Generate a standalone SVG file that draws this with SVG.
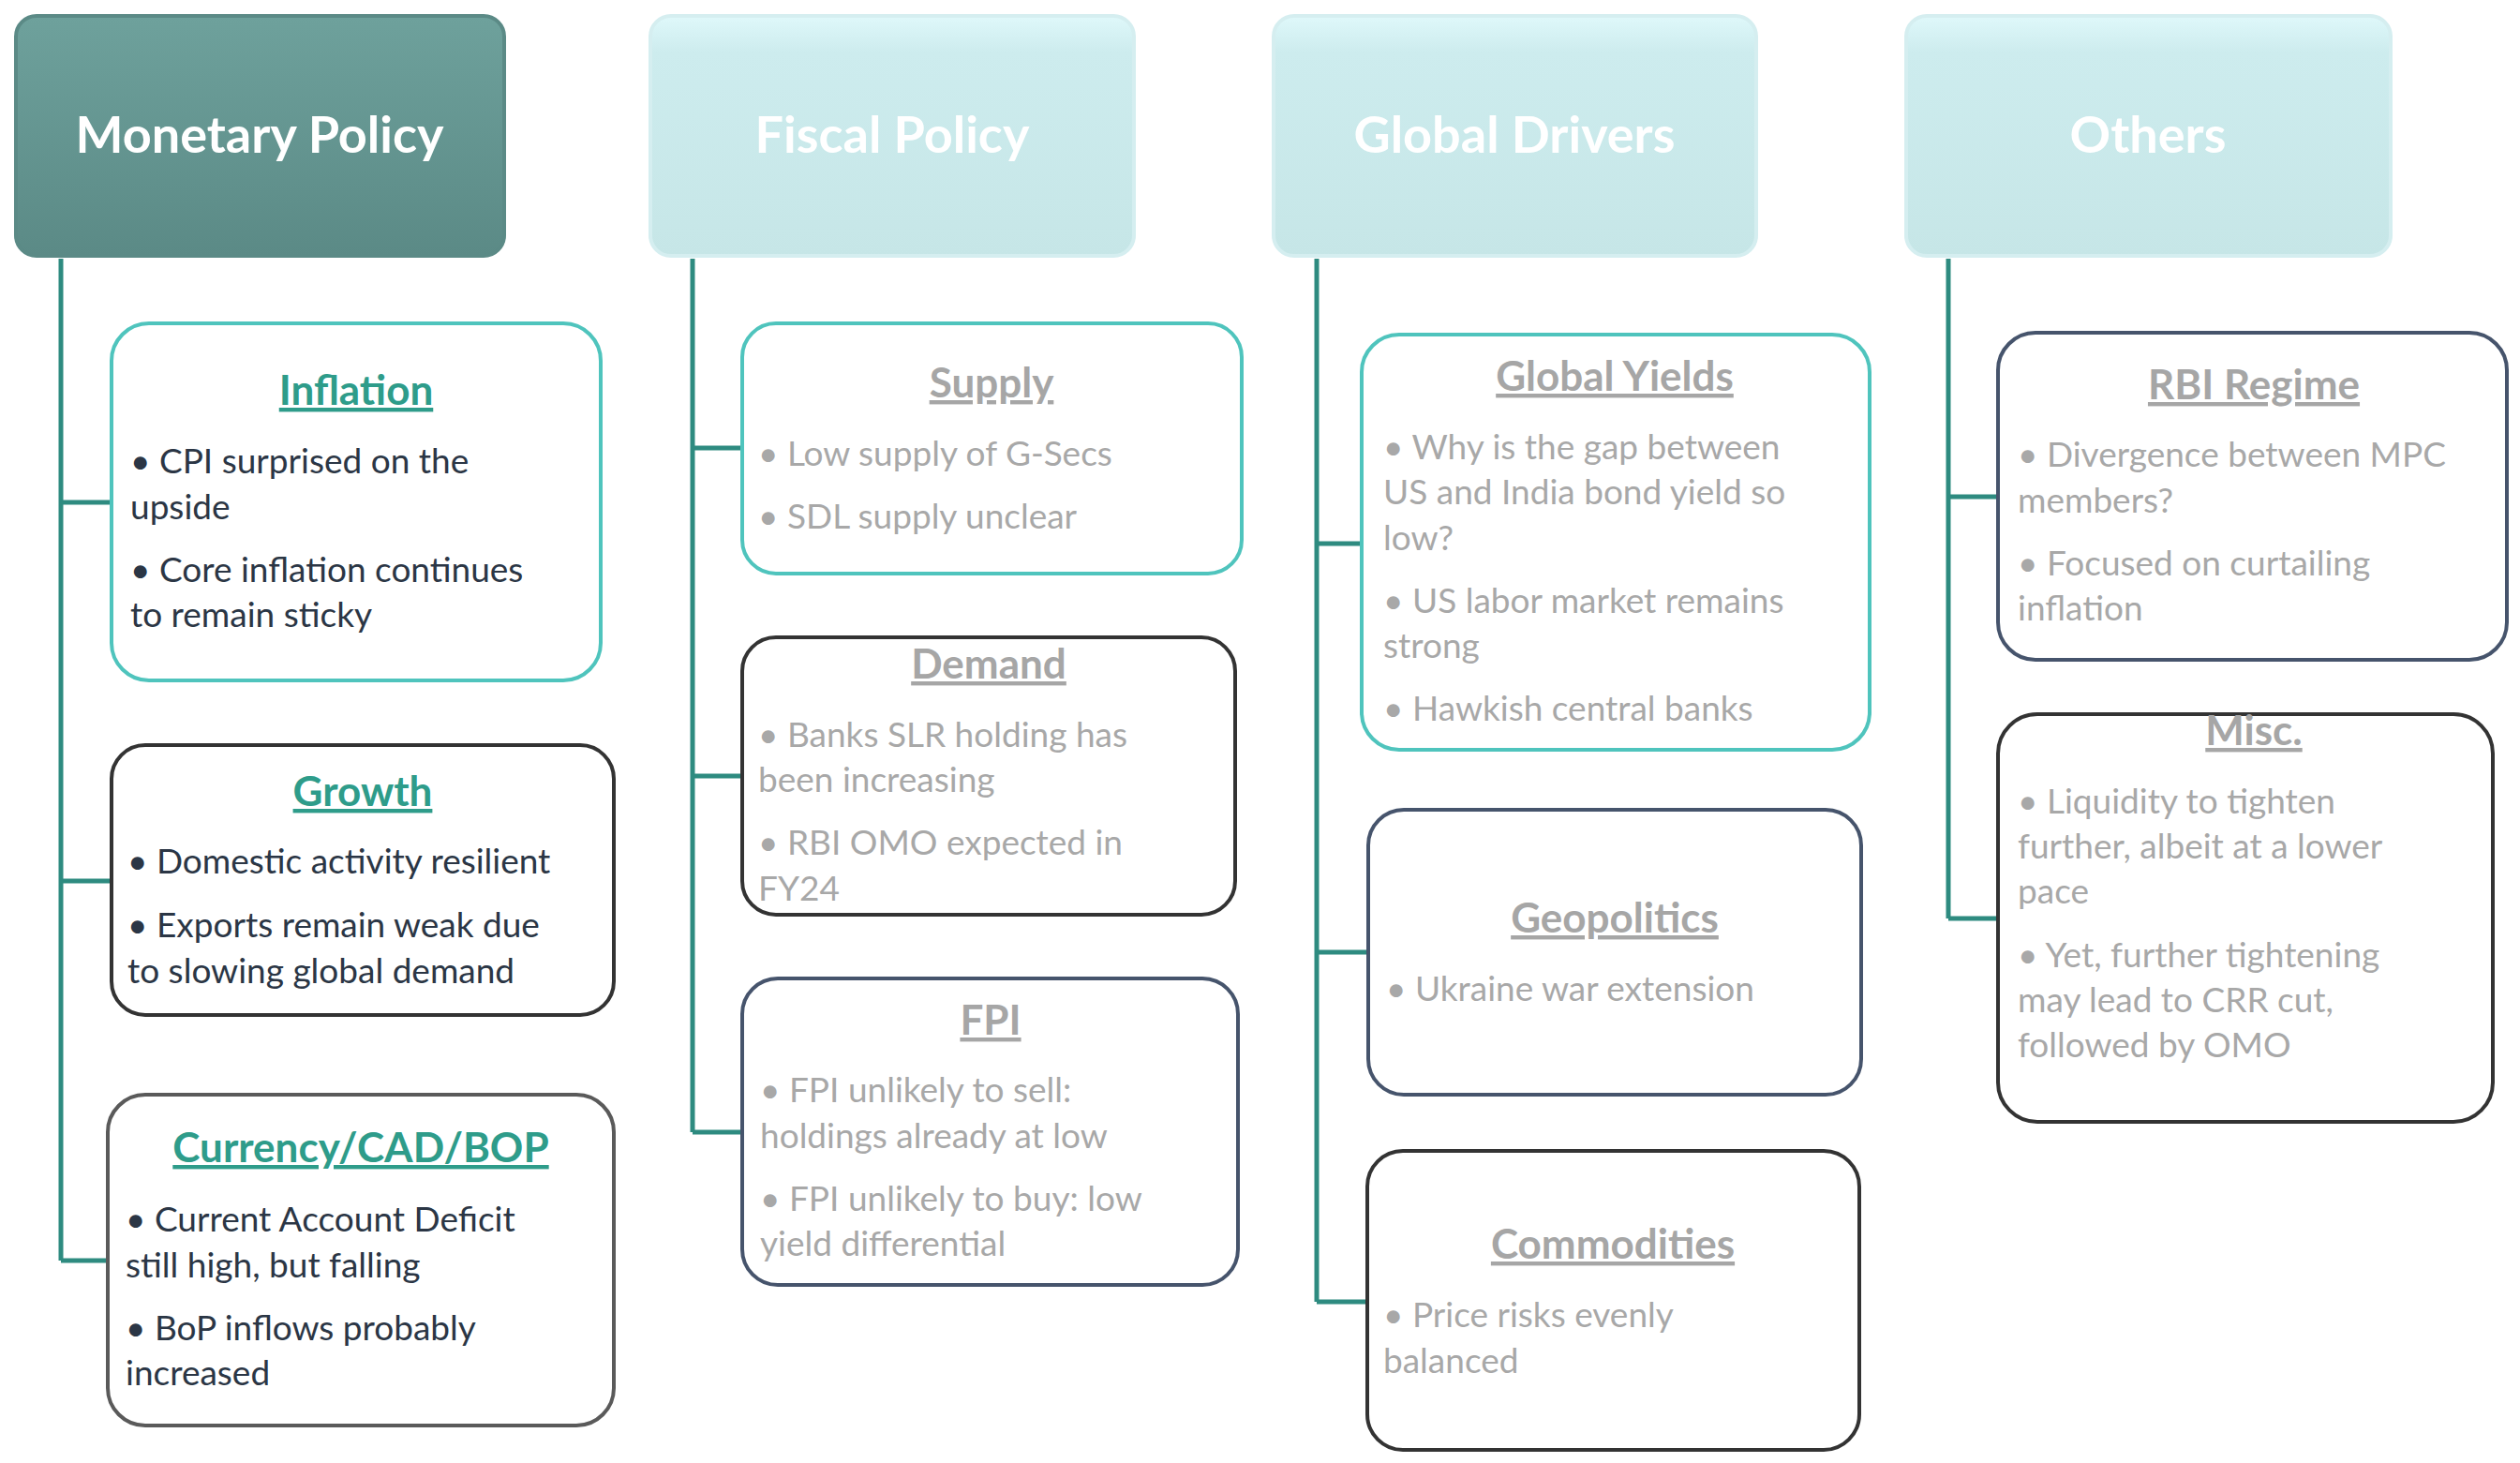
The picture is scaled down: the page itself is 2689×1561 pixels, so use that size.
<svg xmlns="http://www.w3.org/2000/svg" width="2689" height="1561" viewBox="0 0 2689 1561">
<style>
text{font-family:Lato,"Open Sans","Liberation Sans",sans-serif}
.ht{font-size:54px;font-weight:bold;fill:#fff;text-anchor:middle}
.t{font-size:44px;font-weight:bold;text-anchor:middle;text-decoration:underline}
.tg{fill:#2e9c8a}.tx{fill:#a6a6a6}
.b{font-size:37px}
.bd{fill:#2b3645}.bg{fill:#a8a8a8}
.box{fill:#fff;stroke-width:4}
.teal{stroke:#4fc4bd}.dark{stroke:#333}.gray{stroke:#5a5a5a}.slate{stroke:#46546c}
.con{stroke:#2e8b80;stroke-width:5;fill:none}
</style>
<defs>
<linearGradient id="gm" x1="0" y1="0" x2="0" y2="1"><stop offset="0" stop-color="#6ea19c"/><stop offset="1" stop-color="#5b8a86"/></linearGradient>
<linearGradient id="gl" x1="0" y1="0" x2="0" y2="1"><stop offset="0" stop-color="#dff8fa"/><stop offset="0.15" stop-color="#cdecee"/><stop offset="1" stop-color="#c6e6e7"/></linearGradient>
</defs>
<rect width="2689" height="1561" fill="#fff"/>
<g id="connectors">
<path class="con" d="M65 276V1345M65 536H119M65 940H119M65 1345H115"/>
<path class="con" d="M739 276V1208M739 478H792M739 828H792M739 1208H792"/>
<path class="con" d="M1405 276V1389M1405 580H1453M1405 1016H1460M1405 1389H1459"/>
<path class="con" d="M2079 276V980M2079 530H2132M2079 980H2132"/>
</g>
<g id="h-monetary"><rect x="17" y="17" width="521" height="256" rx="22" fill="url(#gm)" stroke="#5b8a86" stroke-width="4"/><text class="ht" x="277" y="163">Monetary Policy</text></g>
<g id="h-fiscal"><rect x="694" y="17" width="516" height="256" rx="22" fill="url(#gl)" stroke="#d5eef0" stroke-width="4"/><text class="ht" x="952" y="163">Fiscal Policy</text></g>
<g id="h-global"><rect x="1359" y="17" width="515" height="256" rx="22" fill="url(#gl)" stroke="#d5eef0" stroke-width="4"/><text class="ht" x="1616" y="163">Global Drivers</text></g>
<g id="h-others"><rect x="2034" y="17" width="517" height="256" rx="22" fill="url(#gl)" stroke="#d5eef0" stroke-width="4"/><text class="ht" x="2292" y="163">Others</text></g>

<g id="inflation"><rect class="box teal" x="119" y="345" width="522" height="381" rx="40"/>
<text class="t tg" x="380" y="432">Inflation</text>
<text class="b bd" x="139" y="505">• CPI surprised on the</text><text class="b bd" x="139" y="554">upside</text>
<text class="b bd" x="139" y="621">• Core inflation continues</text><text class="b bd" x="139" y="669">to remain sticky</text></g>

<g id="growth"><rect class="box dark" x="119" y="795" width="536" height="288" rx="36"/>
<text class="t tg" x="387" y="860">Growth</text>
<text class="b bd" x="136" y="932">• Domestic activity resilient</text>
<text class="b bd" x="136" y="1000">• Exports remain weak due</text><text class="b bd" x="136" y="1049">to slowing global demand</text></g>

<g id="currency"><rect class="box gray" x="115" y="1168" width="540" height="353" rx="40"/>
<text class="t tg" x="385" y="1240">Currency/CAD/BOP</text>
<text class="b bd" x="134" y="1314">• Current Account Deficit</text><text class="b bd" x="134" y="1363">still high, but falling</text>
<text class="b bd" x="134" y="1430">• BoP inflows probably</text><text class="b bd" x="134" y="1478">increased</text></g>

<g id="supply"><rect class="box teal" x="792" y="345" width="533" height="267" rx="36"/>
<text class="t tx" x="1058" y="424">Supply</text>
<text class="b bg" x="809" y="497">• Low supply of G-Secs</text>
<text class="b bg" x="809" y="564">• SDL supply unclear</text></g>

<g id="demand"><rect class="box dark" x="792" y="680" width="526" height="296" rx="36"/>
<text class="t tx" x="1055" y="724">Demand</text>
<text class="b bg" x="809" y="797">• Banks SLR holding has</text><text class="b bg" x="809" y="845">been increasing</text>
<text class="b bg" x="809" y="912">• RBI OMO expected in</text><text class="b bg" x="809" y="961">FY24</text></g>

<g id="fpi"><rect class="box slate" x="792" y="1044" width="529" height="327" rx="38"/>
<text class="t tx" x="1057" y="1104">FPI</text>
<text class="b bg" x="811" y="1176">• FPI unlikely to sell:</text><text class="b bg" x="811" y="1225">holdings already at low</text>
<text class="b bg" x="811" y="1292">• FPI unlikely to buy:  low</text><text class="b bg" x="811" y="1340">yield differential</text></g>

<g id="global-yields"><rect class="box teal" x="1453" y="357" width="542" height="443" rx="40"/>
<text class="t tx" x="1723" y="417">Global Yields</text>
<text class="b bg" x="1476" y="490">• Why is the gap between</text><text class="b bg" x="1476" y="538">US and India bond yield so</text><text class="b bg" x="1476" y="587">low?</text>
<text class="b bg" x="1476" y="654">• US labor market remains</text><text class="b bg" x="1476" y="702">strong</text>
<text class="b bg" x="1476" y="769">• Hawkish central banks</text></g>

<g id="geopolitics"><rect class="box slate" x="1460" y="864" width="526" height="304" rx="38"/>
<text class="t tx" x="1723" y="995">Geopolitics</text>
<text class="b bg" x="1479" y="1068">• Ukraine war extension</text></g>

<g id="commodities"><rect class="box dark" x="1459" y="1228" width="525" height="319" rx="38"/>
<text class="t tx" x="1721" y="1343">Commodities</text>
<text class="b bg" x="1476" y="1416">• Price risks evenly</text><text class="b bg" x="1476" y="1465">balanced</text></g>

<g id="rbi-regime"><rect class="box slate" x="2132" y="355" width="543" height="349" rx="40"/>
<text class="t tx" x="2405" y="426">RBI Regime</text>
<text class="b bg" x="2153" y="498">• Divergence between MPC</text><text class="b bg" x="2153" y="547">members?</text>
<text class="b bg" x="2153" y="614">• Focused on curtailing</text><text class="b bg" x="2153" y="662">inflation</text></g>

<g id="misc"><rect class="box dark" x="2132" y="762" width="528" height="435" rx="42"/>
<text class="t tx" x="2405" y="795">Misc.</text>
<text class="b bg" x="2153" y="868">• Liquidity to tighten</text><text class="b bg" x="2153" y="916">further, albeit at a lower</text><text class="b bg" x="2153" y="964">pace</text>
<text class="b bg" x="2153" y="1032">• Yet, further tightening</text><text class="b bg" x="2153" y="1080">may lead to CRR cut,</text><text class="b bg" x="2153" y="1128">followed by OMO</text></g>
</svg>
